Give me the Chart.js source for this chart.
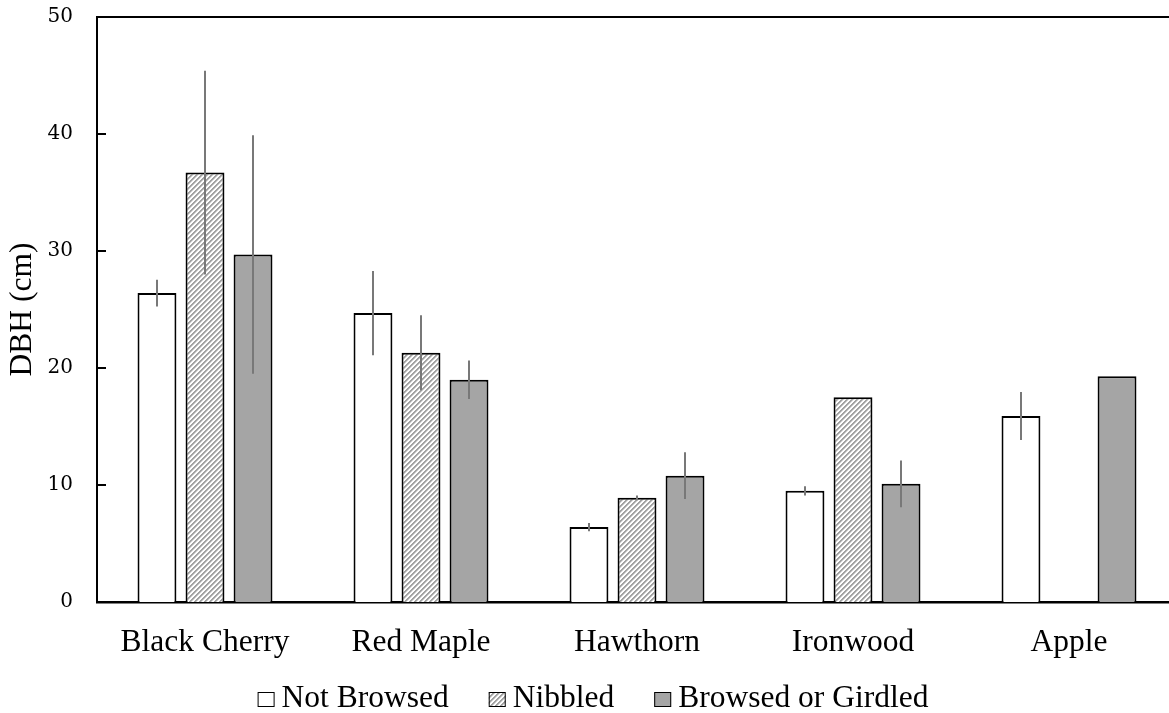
<!DOCTYPE html>
<html>
<head>
<meta charset="utf-8">
<script src="https://cdn.jsdelivr.net/npm/chart.js@4.4.1/dist/chart.umd.min.js"></script>
<style>
  html, body { margin: 0; padding: 0; background: #fff; overflow: hidden; }
  #wrap { position: relative; width: 1177px; height: 713px; }
</style>
</head>
<body>
<div id="wrap"><canvas id="c"></canvas></div>
<script>
// Mean DBH per species and browse class, with the spread shown as error bars
const categories = ['Black Cherry', 'Red Maple', 'Hawthorn', 'Ironwood', 'Apple'];
const seriesNames = ['Not Browsed', 'Nibbled', 'Browsed or Girdled'];
const notBrowsed    = [26.4, 24.7, 6.4, 9.5, 15.9];
const notBrowsedErr = [1.15, 3.6, 0.35, 0.4, 2.05];
const nibbled       = [36.7, 21.3, 8.9, 17.5, null];
const nibbledErr    = [8.7, 3.2, 0.2, 0, null];
const browsed       = [29.7, 19.0, 10.8, 10.1, 19.3];
const browsedErr    = [10.2, 1.65, 2.0, 2.0, 0];
const yTicks = [0, 10, 20, 30, 40, 50];

const errors = [notBrowsedErr, nibbledErr, browsedErr];

const canvas = document.getElementById('c');
const ctx = canvas.getContext('2d');

// diagonal grey-on-white hatching for the "Nibbled" bars
function makeHatch() {
  const n = 5;
  const t = document.createElement('canvas');
  t.width = n; t.height = n;
  const g = t.getContext('2d');
  g.fillStyle = '#ffffff';
  g.fillRect(0, 0, n, n);
  for (let x = 0; x < n; x++) {
    for (let y = 0; y < n; y++) {
      const k = (x + y) % n;
      if (k < 2) { g.fillStyle = '#a3a3a3'; g.fillRect(x, y, 1, 1); }
      else if (k === 2) { g.fillStyle = '#d0d0d0'; g.fillRect(x, y, 1, 1); }
    }
  }
  return ctx.createPattern(t, 'repeat');
}
const hatch = makeHatch();
const fills = ['#ffffff', hatch, '#a5a5a5'];

const SERIF = "'Liberation Serif', 'Times New Roman', serif";
const TEXT_PX = 31.5;

const decor = {
  id: 'decor',
  afterDatasetsDraw(chart) {
    const c = chart.ctx;
    const a = chart.chartArea;
    const y = chart.scales.y;
    c.save();
    // error bars (no caps)
    c.strokeStyle = '#787878';
    c.lineWidth = 2;
    chart.data.datasets.forEach((ds, i) => {
      const meta = chart.getDatasetMeta(i);
      meta.data.forEach((bar, j) => {
        const v = ds.data[j];
        const e = errors[i][j];
        if (v == null || !e) return;
        const x = Math.round(bar.x);
        c.beginPath();
        c.moveTo(x, y.getPixelForValue(v + e));
        c.lineTo(x, y.getPixelForValue(v - e));
        c.stroke();
      });
    });
    // frame line along the top of the plot
    c.strokeStyle = '#000';
    c.lineWidth = 2;
    c.beginPath();
    c.moveTo(a.left, a.top);
    c.lineTo(a.right, a.top);
    c.stroke();
    // inward tick marks on the value axis
    c.beginPath();
    yTicks.forEach(v => {
      const p = Math.round(y.getPixelForValue(v));
      c.moveTo(a.left, p);
      c.lineTo(a.left + 9, p);
    });
    c.stroke();
    c.restore();
  },
  afterDraw(chart) {
    // legend row under the category labels
    const c = chart.ctx;
    const boxW = 17, boxH = 15, gapText = 7, gapItem = 40;
    c.save();
    c.font = TEXT_PX + 'px ' + SERIF;
    const widths = chart.data.datasets.map(ds => boxW + gapText + c.measureText(ds.label).width);
    const total = widths.reduce((s, w) => s + w, 0) + gapItem * (widths.length - 1);
    let x = 593 - total / 2;
    const base = 707;
    chart.data.datasets.forEach((ds, i) => {
      c.fillStyle = fills[i];
      c.fillRect(x, base - boxH, boxW, boxH);
      c.strokeStyle = '#000';
      c.lineWidth = 1;
      c.strokeRect(x + 0.5, base - boxH + 0.5, boxW - 1, boxH - 1);
      c.fillStyle = '#000';
      c.textBaseline = 'alphabetic';
      c.textAlign = 'left';
      c.fillText(ds.label, x + boxW + gapText, base);
      x += widths[i] + gapItem;
    });
    c.restore();
  }
};

const seriesData = [notBrowsed, nibbled, browsed];

new Chart(ctx, {
  type: 'bar',
  data: {
    labels: categories,
    datasets: seriesData.map((d, i) => ({
      label: seriesNames[i],
      data: d,
      backgroundColor: fills[i],
      borderColor: '#000000',
      borderWidth: 2,
      borderSkipped: 'bottom',
      categoryPercentage: 0.667,
      barPercentage: 0.81
    }))
  },
  options: {
    responsive: true,
    maintainAspectRatio: false,
    animation: false,
    devicePixelRatio: 1,
    layout: { padding: { top: 17, left: 0, right: 0, bottom: 0 } },
    plugins: { legend: { display: false }, tooltip: { enabled: false } },
    scales: {
      x: {
        grid: { display: false, drawTicks: false },
        border: { display: true, color: '#000', width: 2.5 },
        ticks: { padding: 22, color: '#000', font: { family: SERIF, size: TEXT_PX } },
        afterFit: s => { s.height = 111; s.paddingLeft = 0; s.paddingRight = 0; }
      },
      y: {
        min: 0,
        max: 50,
        grid: { display: false, drawTicks: false },
        border: { display: true, color: '#000', width: 2 },
        ticks: { padding: 24, color: '#000', font: { family: "'DejaVu Serif', serif", size: 20 } },
        afterBuildTicks: s => { s.ticks = yTicks.map(v => ({ value: v })); },
        title: { display: true, text: 'DBH (cm)', color: '#000', font: { family: SERIF, size: TEXT_PX }, padding: { top: 4, bottom: 0 } },
        afterFit: s => { s.width = 97; s.paddingTop = 0; s.paddingBottom = 0; }
      }
    }
  },
  plugins: [decor]
});
</script>
</body>
</html>
